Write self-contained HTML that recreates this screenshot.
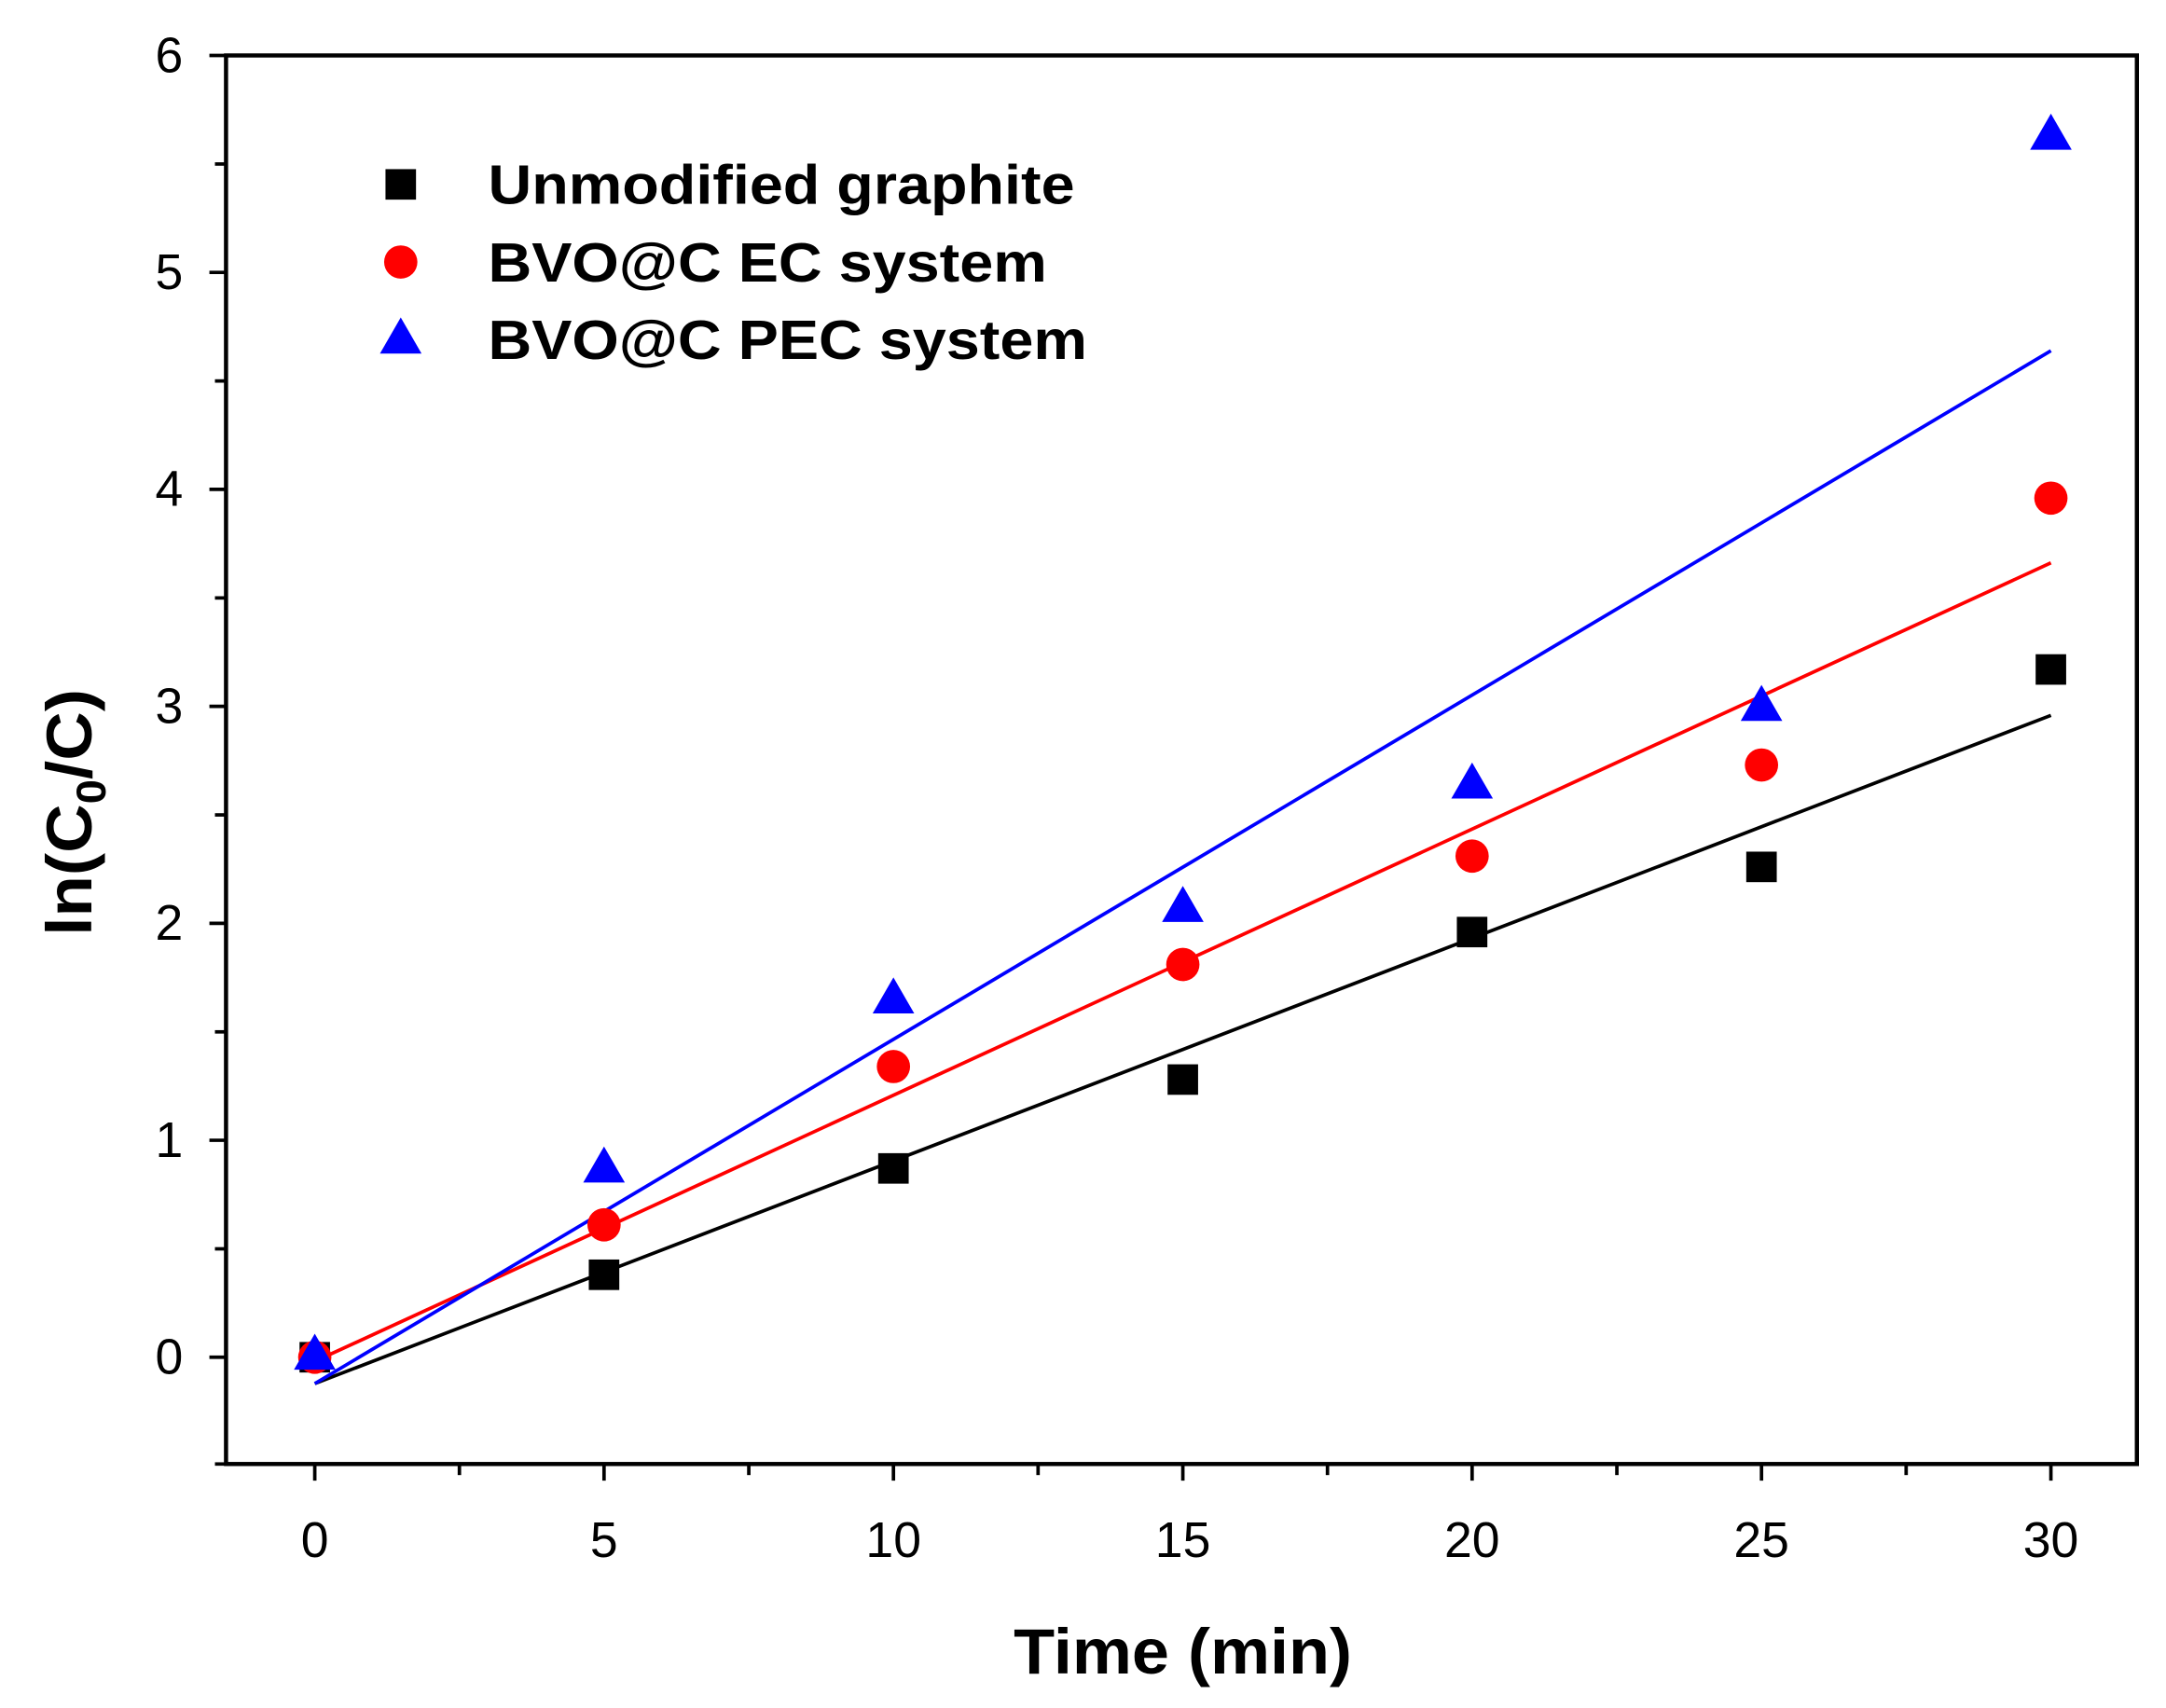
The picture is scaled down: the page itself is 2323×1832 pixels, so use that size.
<!DOCTYPE html>
<html><head><meta charset="utf-8"><style>
html,body{margin:0;padding:0;background:#fff;}
svg{display:block;}
text{font-family:"Liberation Sans",Arial,sans-serif;}
</style></head><body>
<svg width="2323" height="1832" viewBox="0 0 1562 1232" preserveAspectRatio="none" xmlns="http://www.w3.org/2000/svg">
<rect x="0" y="0" width="1562" height="1232" fill="#fff"/>
<rect x="163" y="40" width="1378" height="1016" fill="none" stroke="#000" stroke-width="3"/>
<g stroke="#000" stroke-width="2.5">
<line x1="227" y1="1056" x2="227" y2="1068"/>
<line x1="435.6" y1="1056" x2="435.6" y2="1068"/>
<line x1="644.3" y1="1056" x2="644.3" y2="1068"/>
<line x1="853" y1="1056" x2="853" y2="1068"/>
<line x1="1061.6" y1="1056" x2="1061.6" y2="1068"/>
<line x1="1270.3" y1="1056" x2="1270.3" y2="1068"/>
<line x1="1479" y1="1056" x2="1479" y2="1068"/>
<line x1="331.3" y1="1056" x2="331.3" y2="1064"/>
<line x1="540" y1="1056" x2="540" y2="1064"/>
<line x1="748.6" y1="1056" x2="748.6" y2="1064"/>
<line x1="957.3" y1="1056" x2="957.3" y2="1064"/>
<line x1="1166" y1="1056" x2="1166" y2="1064"/>
<line x1="1374.6" y1="1056" x2="1374.6" y2="1064"/>
<line x1="151" y1="40" x2="163" y2="40"/>
<line x1="151" y1="196.5" x2="163" y2="196.5"/>
<line x1="151" y1="353" x2="163" y2="353"/>
<line x1="151" y1="509.5" x2="163" y2="509.5"/>
<line x1="151" y1="666" x2="163" y2="666"/>
<line x1="151" y1="822.5" x2="163" y2="822.5"/>
<line x1="151" y1="979" x2="163" y2="979"/>
<line x1="155" y1="118.3" x2="163" y2="118.3"/>
<line x1="155" y1="274.8" x2="163" y2="274.8"/>
<line x1="155" y1="431.3" x2="163" y2="431.3"/>
<line x1="155" y1="587.8" x2="163" y2="587.8"/>
<line x1="155" y1="744.3" x2="163" y2="744.3"/>
<line x1="155" y1="900.8" x2="163" y2="900.8"/>
<line x1="155" y1="1056" x2="163" y2="1056"/>
</g>
<g font-size="36" text-anchor="middle" fill="#000">
<text x="227" y="1123">0</text>
<text x="435.6" y="1123">5</text>
<text x="644.3" y="1123">10</text>
<text x="853" y="1123">15</text>
<text x="1061.6" y="1123">20</text>
<text x="1270.3" y="1123">25</text>
<text x="1479" y="1123">30</text>
</g>
<g font-size="36" text-anchor="end" fill="#000">
<text x="132" y="52">6</text>
<text x="132" y="208.5">5</text>
<text x="132" y="365">4</text>
<text x="132" y="521.5">3</text>
<text x="132" y="678">2</text>
<text x="132" y="834.5">1</text>
<text x="132" y="991">0</text>
</g>
<text x="731" y="1207" font-size="46" font-weight="bold" textLength="244" lengthAdjust="spacingAndGlyphs">Time (min)</text>
<text transform="translate(66,675) rotate(-90)" font-size="46" font-weight="bold" textLength="178" lengthAdjust="spacingAndGlyphs">ln(C<tspan font-size="30" dy="10">0</tspan><tspan dy="-10">/C)</tspan></text>
<line x1="227" y1="998" x2="1479" y2="516" stroke="#000" stroke-width="2.5"/>
<line x1="227" y1="982" x2="1479" y2="406" stroke="#ff0000" stroke-width="2.5"/>
<line x1="227" y1="998" x2="1479" y2="253" stroke="#0000ff" stroke-width="2.5"/>
<g fill="#000">
<rect x="216" y="968" width="22" height="22"/>
<rect x="424.6" y="908.5" width="22" height="22"/>
<rect x="633.3" y="831.8" width="22" height="22"/>
<rect x="842" y="767.7" width="22" height="22"/>
<rect x="1050.6" y="661.3" width="22" height="22"/>
<rect x="1259.3" y="614.3" width="22" height="22"/>
<rect x="1468" y="471.9" width="22" height="22"/>
<rect x="278" y="122" width="22" height="22"/>
</g>
<g fill="#ff0000">
<circle cx="227" cy="979" r="12"/>
<circle cx="435.6" cy="883.5" r="12"/>
<circle cx="644.3" cy="769.3" r="12"/>
<circle cx="853" cy="695.7" r="12"/>
<circle cx="1061.6" cy="617.5" r="12"/>
<circle cx="1270.3" cy="551.8" r="12"/>
<circle cx="1479" cy="359.3" r="12"/>
<circle cx="289" cy="189" r="12"/>
</g>
<g fill="#0000ff">
<polygon points="227,962 212,988 242,988"/>
<polygon points="435.6,827 420.6,853 450.6,853"/>
<polygon points="644.3,705 629.3,731 659.3,731"/>
<polygon points="853,639 838,665 868,665"/>
<polygon points="1061.6,550 1046.6,576 1076.6,576"/>
<polygon points="1270.3,494 1255.3,520 1285.3,520"/>
<polygon points="1479,82 1464,108 1494,108"/>
<polygon points="289,229 274,255 304,255"/>
</g>
<g font-size="40" font-weight="bold" fill="#000">
<text x="352" y="147" textLength="423" lengthAdjust="spacingAndGlyphs">Unmodified graphite</text>
<text x="352" y="203" textLength="403" lengthAdjust="spacingAndGlyphs">BVO@C EC system</text>
<text x="352" y="259" textLength="432" lengthAdjust="spacingAndGlyphs">BVO@C PEC system</text>
</g>
</svg>
</body></html>
